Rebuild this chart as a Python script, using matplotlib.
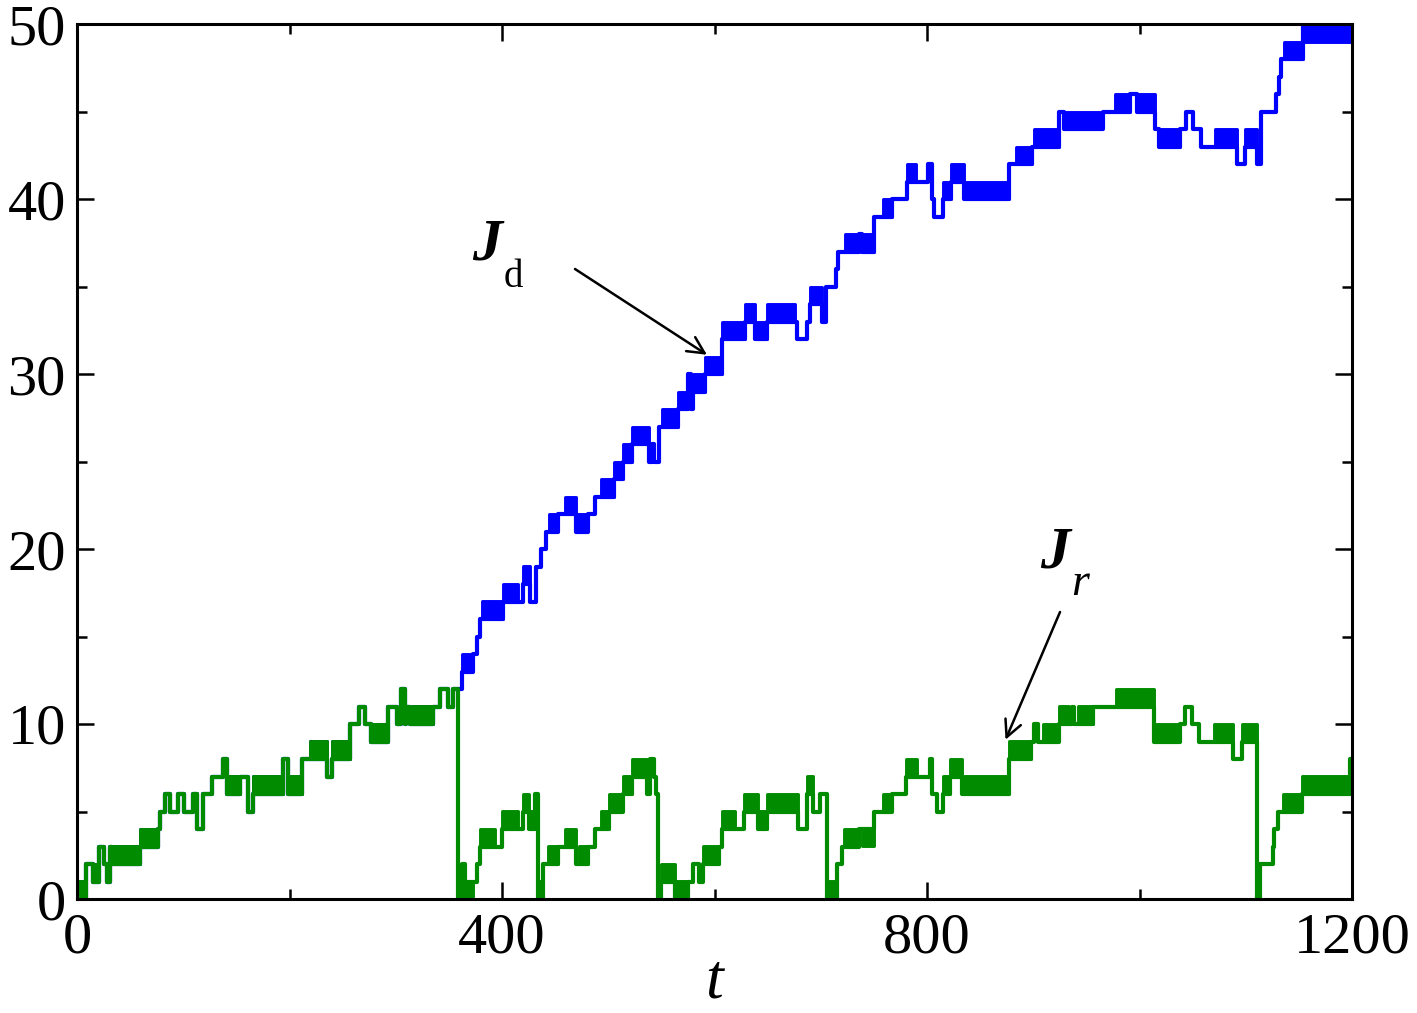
import matplotlib
matplotlib.use('Agg')
import matplotlib.pyplot as plt
from matplotlib.ticker import MultipleLocator

plt.rcParams['font.family'] = ['Liberation Serif', 'DejaVu Serif']

# (t, value) step points; J_d and J_r share the path until the first reset near t = 359
common_steps = [(0, 0), (8, 2), (15, 1), (21, 3), (25, 2), (28, 1), (31, 3), (33, 2), (59, 3),
                (76, 4), (78, 5), (83, 6), (87.5, 5), (95, 6), (101, 5), (109.5, 6), (113, 4),
                (119, 6), (126.7, 7), (137.7, 8), (141, 6), (153, 7), (161, 5), (166, 6),
                (194, 8), (199, 6), (212, 8), (235, 7), (240, 8), (257, 10), (265, 11),
                (271, 10), (277, 9), (293, 11), (301, 10), (305, 12), (309, 10), (310, 11),
                (313, 10), (335, 11), (341.6, 12), (349.5, 11), (354, 12)]
# (t0, t1, lower level): stretches where the value flickers between level and level+1
common_bands = [(0, 8, 0), (15, 21, 1), (33, 59, 2), (59, 76, 3), (141, 153, 6), (166, 194, 6),
                (199, 212, 6), (219, 235, 8), (240, 257, 8), (277, 293, 9), (315, 335, 10)]

jd_steps = [(359, 12), (362, 13), (373, 14), (376, 15), (379, 16), (401, 17), (420, 18), (426, 17),
            (432, 19), (437, 20), (441, 21), (453, 22), (470, 21), (481, 22), (487.5, 23),
            (505, 24), (514, 25), (522, 26), (538, 25), (541, 26), (543, 25), (548, 27),
            (566, 28), (575, 30), (578, 28), (580, 29), (591, 30), (607, 32), (629, 33),
            (638, 32), (649, 33), (678, 32), (687, 33), (690, 34), (701, 33), (705, 35),
            (714, 36), (716, 37), (736, 38), (739, 37), (750, 39), (767, 40), (781, 41),
            (801, 42), (804.6, 40), (807, 39), (815.5, 40), (823, 41), (835, 40), (877, 42),
            (899, 43), (924, 45), (929, 44), (965.7, 45), (991, 46), (998, 45), (1014.6, 44),
            (1018, 43), (1038, 44), (1043.5, 45), (1050.8, 44), (1058, 43), (1092, 42),
            (1099.6, 43), (1110.5, 42), (1114, 45), (1128.6, 46), (1131, 47), (1133, 48),
            (1154, 50), (1200, 50)]
jd_bands = [(362, 373, 13), (381, 401, 16), (401, 415, 17), (420, 426, 18), (444, 453, 21),
            (459, 470, 22), (470, 481, 21), (493, 505, 23), (505, 514, 24), (514, 522, 25),
            (522, 538, 26), (551, 566, 27), (566, 575, 28), (580, 591, 29), (591, 607, 30),
            (607, 629, 32), (629, 638, 33), (638, 649, 32), (649, 676, 33), (690, 701, 34),
            (723, 736, 37), (739, 750, 37), (759, 767, 39), (781, 790, 41), (815.5, 823, 40),
            (823, 835, 41), (835, 877, 40), (884, 899, 42), (901, 924, 43), (929, 965, 44),
            (976.5, 991, 45), (998, 1014.6, 45), (1018, 1038, 43), (1070.7, 1092, 43),
            (1099.6, 1110.5, 43), (1135.8, 1154, 48), (1154, 1200, 49)]

jr_steps = [(359, 0), (362, 2), (365, 1), (376, 2), (379, 3), (399.6, 4), (420, 5), (425, 4),
            (431, 6), (434, 0), (439, 2), (453, 3), (470, 2), (481, 3), (487.5, 4), (501, 5),
            (514, 6), (522, 7), (536, 6), (539, 8), (543, 7), (545, 6), (547, 0), (550, 1),
            (563, 0), (575, 1), (580, 2), (585, 1), (589, 2), (604, 3), (607, 4), (628, 5),
            (641, 4), (649, 5), (679, 4), (686.7, 6), (693, 5), (699, 6), (705.5, 0), (715, 2),
            (720, 3), (736, 4), (750.5, 5), (766.8, 6), (779.8, 7), (802.5, 8), (805, 6),
            (809, 5), (815.5, 6), (822, 7), (833.3, 6), (877, 8), (898, 9), (900.5, 10),
            (904.7, 9), (924, 10), (936, 11), (938, 10), (956.6, 11), (1013.4, 9),
            (1037.7, 10), (1042.6, 11), (1049, 10), (1055.6, 9), (1088, 8), (1096, 9),
            (1110.7, 0), (1113, 2), (1125.4, 3), (1127, 4), (1130, 5), (1153, 6), (1198, 8),
            (1200, 8)]
jr_bands = [(359, 373, 0), (379, 393, 3), (399.6, 415, 4), (420, 425, 5), (425, 431, 4),
            (434, 439, 0), (443, 453, 2), (459, 470, 3), (472, 481, 2), (493, 501, 4),
            (501, 512, 5), (514, 522, 6), (522, 536, 7), (550, 563, 1), (563, 575, 0),
            (589, 604, 2), (607, 619, 4), (628, 641, 5), (641, 649, 4), (649, 679, 5),
            (686.7, 693, 6), (705.5, 715, 0), (722, 736, 3), (739, 750.5, 3), (758.7, 766.8, 5),
            (779.8, 791, 7), (815.5, 822, 6), (822, 833.3, 7), (833.3, 877, 6), (877, 898, 8),
            (909.6, 924, 9), (924, 934, 10), (942, 956.6, 10), (977.7, 1013.4, 11),
            (1013.4, 1037.7, 9), (1070, 1088, 9), (1096, 1110.7, 9), (1135, 1153, 5),
            (1153, 1198, 6)]

BLUE = '#0000ff'
GREEN = '#008b00'
LW = 3.0

W, H = 1417, 1013
fig = plt.figure(figsize=(W / 100, H / 100), dpi=100)
ax = fig.add_axes([77 / W, 1 - 899 / H, 1275 / W, 875 / H])


def draw(steps, bands, color, z):
    t = [p[0] for p in steps]
    v = [p[1] for p in steps]
    ax.step(t, v, where='post', color=color, lw=LW, zorder=z)
    for t0, t1, lo in bands:
        ax.fill_between([t0, t1], lo, lo + 1, facecolor=color, edgecolor=color,
                        lw=LW * 0.7, zorder=z)


draw(common_steps + jd_steps, common_bands + jd_bands, BLUE, 2)
draw(common_steps + jr_steps, common_bands + jr_bands, GREEN, 2.1)

ax.set_xlim(0, 1200)
ax.set_ylim(0, 50)
ax.xaxis.set_major_locator(MultipleLocator(400))
ax.xaxis.set_minor_locator(MultipleLocator(200))
ax.yaxis.set_major_locator(MultipleLocator(10))
ax.yaxis.set_minor_locator(MultipleLocator(5))
ax.tick_params(which='both', direction='in', top=True, right=True, width=1.8)
ax.tick_params(which='major', length=12, labelsize=42)
ax.tick_params(which='minor', length=7)
ax.tick_params(axis='x', pad=10)
ax.tick_params(axis='y', pad=8)
for s in ax.spines.values():
    s.set_linewidth(2.2)

# axis label and curve labels
fig.text(714 / W, 1.5 / H, 't', fontsize=46, style='italic', ha='center', va='bottom')
fig.text(472 / W, 1 - 259 / H, 'J', fontsize=43, style='italic', weight='bold', va='baseline')
fig.text(504 / W, 1 - 287 / H, 'd', fontsize=28, va='baseline')
fig.text(1040 / W, 1 - 567 / H, 'J', fontsize=43, style='italic', weight='bold', va='baseline')
fig.text(1071 / W, 1 - 595 / H, 'r', fontsize=33, style='italic', va='baseline')

arrow = dict(arrowstyle='->', lw=1.8, color='black', mutation_scale=30, shrinkA=0, shrinkB=0)
ax.annotate('', xy=(592.9, 31.1), xytext=(468.7, 36.0), arrowprops=arrow)
ax.annotate('', xy=(873.9, 9.1), xytext=(925.2, 16.4), arrowprops=arrow)

fig.savefig('out.png', dpi=100, facecolor='white')
